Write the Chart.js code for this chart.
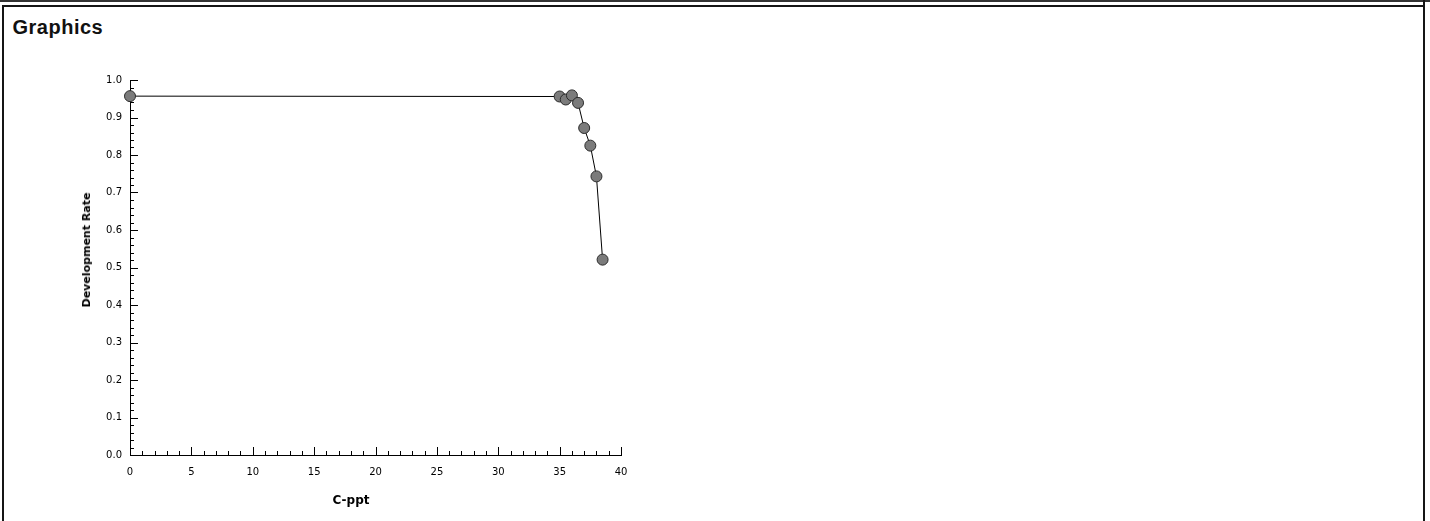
<!DOCTYPE html>
<html>
<head>
<meta charset="utf-8">
<title>Graphics</title>
<script src="https://cdn.jsdelivr.net/npm/chart.js@4.4.1/dist/chart.umd.min.js"></script>
<style>
  html, body { margin: 0; padding: 0; background: #fff; width: 1430px; height: 521px; overflow: hidden; }
  #wrap { position: relative; width: 1430px; height: 521px; }
  #chart { position: absolute; left: 0; top: 0; }
  .rule { position: absolute; background: #151515; }
  #heading {
    position: absolute; left: 12.5px; top: 17px;
    font: bold 20px "Liberation Sans", Arial, sans-serif;
    letter-spacing: 0.5px; line-height: 20px; color: #111; white-space: nowrap;
  }
  .axis-title {
    position: absolute; font-family: "DejaVu Sans", sans-serif; font-weight: bold;
    color: #000; white-space: nowrap; line-height: 12px;
  }
  #xTitle { left: 351px; top: 500px; font-size: 12px; transform: translate(-50%, -50%); }
  #yTitle { left: 86.5px; top: 250px; font-size: 11px; transform: translate(-50%, -50%) rotate(-90deg); }
</style>
</head>
<body>
<div id="wrap">
  <!-- panel frame -->
  <div class="rule" style="left:0;top:0;width:1430px;height:2px;background:#333;"></div>
  <div class="rule" style="left:1423px;top:0;width:2px;height:7px;"></div>
  <div class="rule" style="left:2px;top:5px;width:1423px;height:2px;"></div>
  <div class="rule" style="left:2px;top:5px;width:2px;height:516px;"></div>
  <div class="rule" style="left:1423px;top:5px;width:2px;height:516px;"></div>

  <div id="heading">Graphics</div>
  <canvas id="chart" width="1430" height="521"></canvas>
  <div id="yTitle" class="axis-title">Development Rate</div>
  <div id="xTitle" class="axis-title">C-ppt</div>
</div>

<script>
// Salinity (C-ppt) and the measured development rate at each level
const salinity = [0, 35, 35.5, 36, 36.5, 37, 37.5, 38, 38.5];
const developmentRate = [0.957, 0.956, 0.948, 0.959, 0.939, 0.872, 0.825, 0.743, 0.521];

// Labelled tick positions on each axis
const xTickValues = [0, 5, 10, 15, 20, 25, 30, 35, 40];
const yTickValues = [0, 0.1, 0.2, 0.3, 0.4, 0.5, 0.6, 0.7, 0.8, 0.9, 1.0];

const tickFont = { family: '"DejaVu Sans", sans-serif', size: 10 };

// Draws major/minor tick marks pointing into the plot area
const inwardTicks = {
  id: 'inwardTicks',
  beforeDatasetsDraw(chart, args, opts) {
    const { ctx, chartArea } = chart;
    const xs = chart.scales.x, ys = chart.scales.y;
    ctx.save();
    ctx.strokeStyle = '#000';
    ctx.lineWidth = 1;
    ctx.beginPath();

    const xCount = Math.round((xs.max - xs.min) / opts.xMinor);
    for (let i = 0; i <= xCount; i++) {
      const v = xs.min + i * opts.xMinor;
      const px = Math.round(xs.getPixelForValue(v)) + 0.5;
      const len = (i % opts.xPerMajor === 0) ? opts.majorLen : opts.minorLen;
      ctx.moveTo(px, chartArea.bottom);
      ctx.lineTo(px, chartArea.bottom - len);
    }

    const yCount = Math.round((ys.max - ys.min) / opts.yMinor);
    for (let i = 0; i <= yCount; i++) {
      const v = ys.min + i * opts.yMinor;
      const py = Math.round(ys.getPixelForValue(v)) + 0.5;
      const len = (i % opts.yPerMajor === 0) ? opts.majorLen : opts.minorLen;
      ctx.moveTo(chartArea.left, py);
      ctx.lineTo(chartArea.left + len, py);
    }
    ctx.stroke();
    ctx.restore();
  }
};

new Chart(document.getElementById('chart'), {
  type: 'scatter',
  data: {
    datasets: [{
      data: salinity.map((s, i) => ({ x: s, y: developmentRate[i] })),
      showLine: true,
      borderColor: '#000',
      borderWidth: 1,
      tension: 0,
      pointRadius: 5.5,
      pointBackgroundColor: '#7b7b7b',
      pointBorderColor: '#2b2b2b',
      pointBorderWidth: 1,
      clip: false
    }]
  },
  options: {
    responsive: false,
    devicePixelRatio: 1,
    animation: false,
    events: [],
    layout: { padding: { left: 60, top: 80, right: 809, bottom: 20 } },
    plugins: {
      legend: { display: false },
      tooltip: { enabled: false },
      inwardTicks: { xMinor: 1, xPerMajor: 5, yMinor: 0.02, yPerMajor: 5, majorLen: 8, minorLen: 4 }
    },
    scales: {
      x: {
        type: 'linear',
        min: 0, max: 40,
        afterBuildTicks: s => { s.ticks = xTickValues.map(v => ({ value: v })); },
        afterFit: s => { s.height = 46; },
        ticks: { font: tickFont, color: '#000', padding: 11, maxRotation: 0, autoSkip: false },
        grid: { display: false, drawTicks: false },
        border: { display: true, color: '#000', width: 1 },
        title: { display: false }
      },
      y: {
        type: 'linear',
        min: 0, max: 1,
        afterBuildTicks: s => { s.ticks = yTickValues.map(v => ({ value: v })); },
        afterFit: s => { s.width = 70; },
        ticks: { font: tickFont, color: '#000', padding: 8, autoSkip: false, callback: v => Number(v).toFixed(1) },
        grid: { display: false, drawTicks: false },
        border: { display: true, color: '#000', width: 1 },
        title: { display: false }
      }
    }
  },
  plugins: [inwardTicks]
});
</script>
</body>
</html>
